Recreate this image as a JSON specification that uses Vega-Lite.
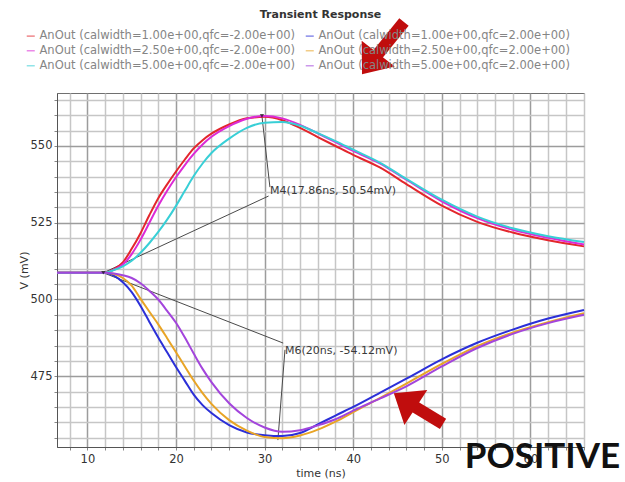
{
  "$schema": "https://vega.github.io/schema/vega-lite/v6.json",
  "width": 527,
  "height": 354,
  "autosize": {"type": "none"},
  "padding": {"left": 57, "top": 93, "right": 41, "bottom": 35},
  "background": "white",
  "config": {"view": {"stroke": "#707070", "strokeWidth": 1}, "font": "DejaVu Sans"},
  "title": {"text": "Transient Response", "anchor": "middle", "frame": "group", "offset": -4, "font": "DejaVu Sans", "fontSize": 11, "fontWeight": "bold", "color": "#333333"},
  "datasets": {
    "traces": [
      {"trace": "AnOut (calwidth=1.00e+00,qfc=-2.00e+00)", "t": 6.57, "v": 508.7},
      {"trace": "AnOut (calwidth=1.00e+00,qfc=-2.00e+00)", "t": 12, "v": 508.7},
      {"trace": "AnOut (calwidth=1.00e+00,qfc=-2.00e+00)", "t": 13, "v": 509.9},
      {"trace": "AnOut (calwidth=1.00e+00,qfc=-2.00e+00)", "t": 14, "v": 512.1},
      {"trace": "AnOut (calwidth=1.00e+00,qfc=-2.00e+00)", "t": 15, "v": 516.5},
      {"trace": "AnOut (calwidth=1.00e+00,qfc=-2.00e+00)", "t": 16, "v": 521.6},
      {"trace": "AnOut (calwidth=1.00e+00,qfc=-2.00e+00)", "t": 17, "v": 527.5},
      {"trace": "AnOut (calwidth=1.00e+00,qfc=-2.00e+00)", "t": 18, "v": 533.0},
      {"trace": "AnOut (calwidth=1.00e+00,qfc=-2.00e+00)", "t": 19, "v": 537.5},
      {"trace": "AnOut (calwidth=1.00e+00,qfc=-2.00e+00)", "t": 20, "v": 541.7},
      {"trace": "AnOut (calwidth=1.00e+00,qfc=-2.00e+00)", "t": 21, "v": 545.6},
      {"trace": "AnOut (calwidth=1.00e+00,qfc=-2.00e+00)", "t": 22, "v": 549.2},
      {"trace": "AnOut (calwidth=1.00e+00,qfc=-2.00e+00)", "t": 23, "v": 551.9},
      {"trace": "AnOut (calwidth=1.00e+00,qfc=-2.00e+00)", "t": 24, "v": 554.0},
      {"trace": "AnOut (calwidth=1.00e+00,qfc=-2.00e+00)", "t": 26, "v": 557.0},
      {"trace": "AnOut (calwidth=1.00e+00,qfc=-2.00e+00)", "t": 28, "v": 559.0},
      {"trace": "AnOut (calwidth=1.00e+00,qfc=-2.00e+00)", "t": 30, "v": 559.5},
      {"trace": "AnOut (calwidth=1.00e+00,qfc=-2.00e+00)", "t": 32, "v": 558.4},
      {"trace": "AnOut (calwidth=1.00e+00,qfc=-2.00e+00)", "t": 34, "v": 555.9},
      {"trace": "AnOut (calwidth=1.00e+00,qfc=-2.00e+00)", "t": 36, "v": 552.9},
      {"trace": "AnOut (calwidth=1.00e+00,qfc=-2.00e+00)", "t": 38, "v": 550.0},
      {"trace": "AnOut (calwidth=1.00e+00,qfc=-2.00e+00)", "t": 40, "v": 547.1},
      {"trace": "AnOut (calwidth=1.00e+00,qfc=-2.00e+00)", "t": 43, "v": 543.0},
      {"trace": "AnOut (calwidth=1.00e+00,qfc=-2.00e+00)", "t": 46, "v": 537.6},
      {"trace": "AnOut (calwidth=1.00e+00,qfc=-2.00e+00)", "t": 50, "v": 530.6},
      {"trace": "AnOut (calwidth=1.00e+00,qfc=-2.00e+00)", "t": 54, "v": 525.3},
      {"trace": "AnOut (calwidth=1.00e+00,qfc=-2.00e+00)", "t": 58, "v": 521.8},
      {"trace": "AnOut (calwidth=1.00e+00,qfc=-2.00e+00)", "t": 62, "v": 519.3},
      {"trace": "AnOut (calwidth=1.00e+00,qfc=-2.00e+00)", "t": 66.05, "v": 517.3},

      {"trace": "AnOut (calwidth=1.00e+00,qfc=2.00e+00)", "t": 6.57, "v": 508.7},
      {"trace": "AnOut (calwidth=1.00e+00,qfc=2.00e+00)", "t": 12, "v": 508.7},
      {"trace": "AnOut (calwidth=1.00e+00,qfc=2.00e+00)", "t": 13, "v": 507.8},
      {"trace": "AnOut (calwidth=1.00e+00,qfc=2.00e+00)", "t": 14, "v": 505.6},
      {"trace": "AnOut (calwidth=1.00e+00,qfc=2.00e+00)", "t": 15, "v": 502.4},
      {"trace": "AnOut (calwidth=1.00e+00,qfc=2.00e+00)", "t": 16, "v": 497.9},
      {"trace": "AnOut (calwidth=1.00e+00,qfc=2.00e+00)", "t": 17, "v": 492.7},
      {"trace": "AnOut (calwidth=1.00e+00,qfc=2.00e+00)", "t": 18, "v": 487.6},
      {"trace": "AnOut (calwidth=1.00e+00,qfc=2.00e+00)", "t": 19, "v": 482.8},
      {"trace": "AnOut (calwidth=1.00e+00,qfc=2.00e+00)", "t": 20, "v": 478.0},
      {"trace": "AnOut (calwidth=1.00e+00,qfc=2.00e+00)", "t": 21, "v": 473.5},
      {"trace": "AnOut (calwidth=1.00e+00,qfc=2.00e+00)", "t": 22, "v": 469.0},
      {"trace": "AnOut (calwidth=1.00e+00,qfc=2.00e+00)", "t": 23, "v": 465.6},
      {"trace": "AnOut (calwidth=1.00e+00,qfc=2.00e+00)", "t": 24, "v": 463.0},
      {"trace": "AnOut (calwidth=1.00e+00,qfc=2.00e+00)", "t": 26, "v": 459.1},
      {"trace": "AnOut (calwidth=1.00e+00,qfc=2.00e+00)", "t": 28, "v": 456.7},
      {"trace": "AnOut (calwidth=1.00e+00,qfc=2.00e+00)", "t": 30, "v": 455.8},
      {"trace": "AnOut (calwidth=1.00e+00,qfc=2.00e+00)", "t": 32, "v": 455.5},
      {"trace": "AnOut (calwidth=1.00e+00,qfc=2.00e+00)", "t": 34, "v": 456.5},
      {"trace": "AnOut (calwidth=1.00e+00,qfc=2.00e+00)", "t": 36, "v": 459.3},
      {"trace": "AnOut (calwidth=1.00e+00,qfc=2.00e+00)", "t": 38, "v": 462.2},
      {"trace": "AnOut (calwidth=1.00e+00,qfc=2.00e+00)", "t": 40, "v": 465.0},
      {"trace": "AnOut (calwidth=1.00e+00,qfc=2.00e+00)", "t": 43, "v": 469.6},
      {"trace": "AnOut (calwidth=1.00e+00,qfc=2.00e+00)", "t": 46, "v": 474.2},
      {"trace": "AnOut (calwidth=1.00e+00,qfc=2.00e+00)", "t": 50, "v": 480.5},
      {"trace": "AnOut (calwidth=1.00e+00,qfc=2.00e+00)", "t": 54, "v": 485.9},
      {"trace": "AnOut (calwidth=1.00e+00,qfc=2.00e+00)", "t": 58, "v": 490.2},
      {"trace": "AnOut (calwidth=1.00e+00,qfc=2.00e+00)", "t": 62, "v": 493.8},
      {"trace": "AnOut (calwidth=1.00e+00,qfc=2.00e+00)", "t": 66.05, "v": 496.6},

      {"trace": "AnOut (calwidth=2.50e+00,qfc=-2.00e+00)", "t": 6.57, "v": 508.7},
      {"trace": "AnOut (calwidth=2.50e+00,qfc=-2.00e+00)", "t": 12, "v": 508.7},
      {"trace": "AnOut (calwidth=2.50e+00,qfc=-2.00e+00)", "t": 13, "v": 509.7},
      {"trace": "AnOut (calwidth=2.50e+00,qfc=-2.00e+00)", "t": 14, "v": 511.4},
      {"trace": "AnOut (calwidth=2.50e+00,qfc=-2.00e+00)", "t": 15, "v": 514.8},
      {"trace": "AnOut (calwidth=2.50e+00,qfc=-2.00e+00)", "t": 16, "v": 519.5},
      {"trace": "AnOut (calwidth=2.50e+00,qfc=-2.00e+00)", "t": 17, "v": 525.0},
      {"trace": "AnOut (calwidth=2.50e+00,qfc=-2.00e+00)", "t": 18, "v": 530.5},
      {"trace": "AnOut (calwidth=2.50e+00,qfc=-2.00e+00)", "t": 19, "v": 535.4},
      {"trace": "AnOut (calwidth=2.50e+00,qfc=-2.00e+00)", "t": 20, "v": 539.8},
      {"trace": "AnOut (calwidth=2.50e+00,qfc=-2.00e+00)", "t": 21, "v": 543.8},
      {"trace": "AnOut (calwidth=2.50e+00,qfc=-2.00e+00)", "t": 22, "v": 547.4},
      {"trace": "AnOut (calwidth=2.50e+00,qfc=-2.00e+00)", "t": 23, "v": 550.5},
      {"trace": "AnOut (calwidth=2.50e+00,qfc=-2.00e+00)", "t": 24, "v": 553.0},
      {"trace": "AnOut (calwidth=2.50e+00,qfc=-2.00e+00)", "t": 26, "v": 556.5},
      {"trace": "AnOut (calwidth=2.50e+00,qfc=-2.00e+00)", "t": 28, "v": 558.9},
      {"trace": "AnOut (calwidth=2.50e+00,qfc=-2.00e+00)", "t": 30, "v": 559.8},
      {"trace": "AnOut (calwidth=2.50e+00,qfc=-2.00e+00)", "t": 32, "v": 559.0},
      {"trace": "AnOut (calwidth=2.50e+00,qfc=-2.00e+00)", "t": 34, "v": 556.9},
      {"trace": "AnOut (calwidth=2.50e+00,qfc=-2.00e+00)", "t": 36, "v": 554.1},
      {"trace": "AnOut (calwidth=2.50e+00,qfc=-2.00e+00)", "t": 38, "v": 551.3},
      {"trace": "AnOut (calwidth=2.50e+00,qfc=-2.00e+00)", "t": 40, "v": 548.4},
      {"trace": "AnOut (calwidth=2.50e+00,qfc=-2.00e+00)", "t": 43, "v": 544.3},
      {"trace": "AnOut (calwidth=2.50e+00,qfc=-2.00e+00)", "t": 46, "v": 539.0},
      {"trace": "AnOut (calwidth=2.50e+00,qfc=-2.00e+00)", "t": 50, "v": 532.0},
      {"trace": "AnOut (calwidth=2.50e+00,qfc=-2.00e+00)", "t": 54, "v": 526.5},
      {"trace": "AnOut (calwidth=2.50e+00,qfc=-2.00e+00)", "t": 58, "v": 522.7},
      {"trace": "AnOut (calwidth=2.50e+00,qfc=-2.00e+00)", "t": 62, "v": 520.1},
      {"trace": "AnOut (calwidth=2.50e+00,qfc=-2.00e+00)", "t": 66.05, "v": 517.9},

      {"trace": "AnOut (calwidth=2.50e+00,qfc=2.00e+00)", "t": 6.57, "v": 508.7},
      {"trace": "AnOut (calwidth=2.50e+00,qfc=2.00e+00)", "t": 12, "v": 508.7},
      {"trace": "AnOut (calwidth=2.50e+00,qfc=2.00e+00)", "t": 13, "v": 508.3},
      {"trace": "AnOut (calwidth=2.50e+00,qfc=2.00e+00)", "t": 14, "v": 507.0},
      {"trace": "AnOut (calwidth=2.50e+00,qfc=2.00e+00)", "t": 15, "v": 504.5},
      {"trace": "AnOut (calwidth=2.50e+00,qfc=2.00e+00)", "t": 16, "v": 500.2},
      {"trace": "AnOut (calwidth=2.50e+00,qfc=2.00e+00)", "t": 17, "v": 496.0},
      {"trace": "AnOut (calwidth=2.50e+00,qfc=2.00e+00)", "t": 18, "v": 491.9},
      {"trace": "AnOut (calwidth=2.50e+00,qfc=2.00e+00)", "t": 19, "v": 487.4},
      {"trace": "AnOut (calwidth=2.50e+00,qfc=2.00e+00)", "t": 20, "v": 482.8},
      {"trace": "AnOut (calwidth=2.50e+00,qfc=2.00e+00)", "t": 21, "v": 478.2},
      {"trace": "AnOut (calwidth=2.50e+00,qfc=2.00e+00)", "t": 22, "v": 473.6},
      {"trace": "AnOut (calwidth=2.50e+00,qfc=2.00e+00)", "t": 23, "v": 469.5},
      {"trace": "AnOut (calwidth=2.50e+00,qfc=2.00e+00)", "t": 24, "v": 466.0},
      {"trace": "AnOut (calwidth=2.50e+00,qfc=2.00e+00)", "t": 26, "v": 460.7},
      {"trace": "AnOut (calwidth=2.50e+00,qfc=2.00e+00)", "t": 28, "v": 457.3},
      {"trace": "AnOut (calwidth=2.50e+00,qfc=2.00e+00)", "t": 30, "v": 455.2},
      {"trace": "AnOut (calwidth=2.50e+00,qfc=2.00e+00)", "t": 32, "v": 454.8},
      {"trace": "AnOut (calwidth=2.50e+00,qfc=2.00e+00)", "t": 34, "v": 455.7},
      {"trace": "AnOut (calwidth=2.50e+00,qfc=2.00e+00)", "t": 36, "v": 457.6},
      {"trace": "AnOut (calwidth=2.50e+00,qfc=2.00e+00)", "t": 38, "v": 460.2},
      {"trace": "AnOut (calwidth=2.50e+00,qfc=2.00e+00)", "t": 40, "v": 463.3},
      {"trace": "AnOut (calwidth=2.50e+00,qfc=2.00e+00)", "t": 43, "v": 467.9},
      {"trace": "AnOut (calwidth=2.50e+00,qfc=2.00e+00)", "t": 46, "v": 472.6},
      {"trace": "AnOut (calwidth=2.50e+00,qfc=2.00e+00)", "t": 50, "v": 479.0},
      {"trace": "AnOut (calwidth=2.50e+00,qfc=2.00e+00)", "t": 54, "v": 484.8},
      {"trace": "AnOut (calwidth=2.50e+00,qfc=2.00e+00)", "t": 58, "v": 489.2},
      {"trace": "AnOut (calwidth=2.50e+00,qfc=2.00e+00)", "t": 62, "v": 492.6},
      {"trace": "AnOut (calwidth=2.50e+00,qfc=2.00e+00)", "t": 66.05, "v": 495.5},

      {"trace": "AnOut (calwidth=5.00e+00,qfc=-2.00e+00)", "t": 6.57, "v": 508.7},
      {"trace": "AnOut (calwidth=5.00e+00,qfc=-2.00e+00)", "t": 12, "v": 508.7},
      {"trace": "AnOut (calwidth=5.00e+00,qfc=-2.00e+00)", "t": 13, "v": 509.6},
      {"trace": "AnOut (calwidth=5.00e+00,qfc=-2.00e+00)", "t": 14, "v": 510.8},
      {"trace": "AnOut (calwidth=5.00e+00,qfc=-2.00e+00)", "t": 15, "v": 512.6},
      {"trace": "AnOut (calwidth=5.00e+00,qfc=-2.00e+00)", "t": 16, "v": 515.2},
      {"trace": "AnOut (calwidth=5.00e+00,qfc=-2.00e+00)", "t": 17, "v": 518.4},
      {"trace": "AnOut (calwidth=5.00e+00,qfc=-2.00e+00)", "t": 18, "v": 522.0},
      {"trace": "AnOut (calwidth=5.00e+00,qfc=-2.00e+00)", "t": 19, "v": 526.0},
      {"trace": "AnOut (calwidth=5.00e+00,qfc=-2.00e+00)", "t": 20, "v": 530.5},
      {"trace": "AnOut (calwidth=5.00e+00,qfc=-2.00e+00)", "t": 21, "v": 535.4},
      {"trace": "AnOut (calwidth=5.00e+00,qfc=-2.00e+00)", "t": 22, "v": 540.2},
      {"trace": "AnOut (calwidth=5.00e+00,qfc=-2.00e+00)", "t": 23, "v": 544.3},
      {"trace": "AnOut (calwidth=5.00e+00,qfc=-2.00e+00)", "t": 24, "v": 547.7},
      {"trace": "AnOut (calwidth=5.00e+00,qfc=-2.00e+00)", "t": 26, "v": 552.4},
      {"trace": "AnOut (calwidth=5.00e+00,qfc=-2.00e+00)", "t": 28, "v": 555.9},
      {"trace": "AnOut (calwidth=5.00e+00,qfc=-2.00e+00)", "t": 30, "v": 557.6},
      {"trace": "AnOut (calwidth=5.00e+00,qfc=-2.00e+00)", "t": 32, "v": 557.8},
      {"trace": "AnOut (calwidth=5.00e+00,qfc=-2.00e+00)", "t": 34, "v": 556.6},
      {"trace": "AnOut (calwidth=5.00e+00,qfc=-2.00e+00)", "t": 36, "v": 554.2},
      {"trace": "AnOut (calwidth=5.00e+00,qfc=-2.00e+00)", "t": 38, "v": 551.6},
      {"trace": "AnOut (calwidth=5.00e+00,qfc=-2.00e+00)", "t": 40, "v": 548.8},
      {"trace": "AnOut (calwidth=5.00e+00,qfc=-2.00e+00)", "t": 43, "v": 544.6},
      {"trace": "AnOut (calwidth=5.00e+00,qfc=-2.00e+00)", "t": 46, "v": 539.3},
      {"trace": "AnOut (calwidth=5.00e+00,qfc=-2.00e+00)", "t": 50, "v": 532.5},
      {"trace": "AnOut (calwidth=5.00e+00,qfc=-2.00e+00)", "t": 54, "v": 527.0},
      {"trace": "AnOut (calwidth=5.00e+00,qfc=-2.00e+00)", "t": 58, "v": 523.2},
      {"trace": "AnOut (calwidth=5.00e+00,qfc=-2.00e+00)", "t": 62, "v": 520.6},
      {"trace": "AnOut (calwidth=5.00e+00,qfc=-2.00e+00)", "t": 66.05, "v": 518.7},

      {"trace": "AnOut (calwidth=5.00e+00,qfc=2.00e+00)", "t": 6.57, "v": 508.7},
      {"trace": "AnOut (calwidth=5.00e+00,qfc=2.00e+00)", "t": 12, "v": 508.7},
      {"trace": "AnOut (calwidth=5.00e+00,qfc=2.00e+00)", "t": 13, "v": 508.5},
      {"trace": "AnOut (calwidth=5.00e+00,qfc=2.00e+00)", "t": 14, "v": 507.9},
      {"trace": "AnOut (calwidth=5.00e+00,qfc=2.00e+00)", "t": 15, "v": 507.0},
      {"trace": "AnOut (calwidth=5.00e+00,qfc=2.00e+00)", "t": 16, "v": 505.3},
      {"trace": "AnOut (calwidth=5.00e+00,qfc=2.00e+00)", "t": 17, "v": 502.8},
      {"trace": "AnOut (calwidth=5.00e+00,qfc=2.00e+00)", "t": 18, "v": 500.0},
      {"trace": "AnOut (calwidth=5.00e+00,qfc=2.00e+00)", "t": 19, "v": 496.3},
      {"trace": "AnOut (calwidth=5.00e+00,qfc=2.00e+00)", "t": 20, "v": 492.4},
      {"trace": "AnOut (calwidth=5.00e+00,qfc=2.00e+00)", "t": 21, "v": 487.6},
      {"trace": "AnOut (calwidth=5.00e+00,qfc=2.00e+00)", "t": 22, "v": 482.4},
      {"trace": "AnOut (calwidth=5.00e+00,qfc=2.00e+00)", "t": 23, "v": 477.4},
      {"trace": "AnOut (calwidth=5.00e+00,qfc=2.00e+00)", "t": 24, "v": 473.1},
      {"trace": "AnOut (calwidth=5.00e+00,qfc=2.00e+00)", "t": 26, "v": 466.2},
      {"trace": "AnOut (calwidth=5.00e+00,qfc=2.00e+00)", "t": 28, "v": 461.4},
      {"trace": "AnOut (calwidth=5.00e+00,qfc=2.00e+00)", "t": 30, "v": 458.3},
      {"trace": "AnOut (calwidth=5.00e+00,qfc=2.00e+00)", "t": 32, "v": 456.9},
      {"trace": "AnOut (calwidth=5.00e+00,qfc=2.00e+00)", "t": 34, "v": 457.4},
      {"trace": "AnOut (calwidth=5.00e+00,qfc=2.00e+00)", "t": 36, "v": 459.0},
      {"trace": "AnOut (calwidth=5.00e+00,qfc=2.00e+00)", "t": 38, "v": 461.0},
      {"trace": "AnOut (calwidth=5.00e+00,qfc=2.00e+00)", "t": 40, "v": 463.8},
      {"trace": "AnOut (calwidth=5.00e+00,qfc=2.00e+00)", "t": 43, "v": 467.7},
      {"trace": "AnOut (calwidth=5.00e+00,qfc=2.00e+00)", "t": 46, "v": 471.7},
      {"trace": "AnOut (calwidth=5.00e+00,qfc=2.00e+00)", "t": 50, "v": 478.2},
      {"trace": "AnOut (calwidth=5.00e+00,qfc=2.00e+00)", "t": 54, "v": 484.2},
      {"trace": "AnOut (calwidth=5.00e+00,qfc=2.00e+00)", "t": 58, "v": 488.8},
      {"trace": "AnOut (calwidth=5.00e+00,qfc=2.00e+00)", "t": 62, "v": 492.3},
      {"trace": "AnOut (calwidth=5.00e+00,qfc=2.00e+00)", "t": 66.05, "v": 495.0}
    ],
    "markerLines": [
      {"t": 29.7, "v": 559.8, "t2": 30.6, "v2": 536.6},
      {"t": 30.45, "v": 533.7, "t2": 11.8, "v2": 508.7},
      {"t": 32.1, "v": 485.8, "t2": 11.8, "v2": 508.7},
      {"t": 32.3, "v": 483.6, "t2": 31.5, "v2": 454.2}
    ],
    "markerPoints": [
      {"t": 11.8, "v": 508.7},
      {"t": 29.7, "v": 559.8}
    ],
    "markerLabels": [
      {"t": 30.61, "v": 535.4, "label": "M4(17.86ns, 50.54mV)"},
      {"t": 32.3, "v": 483.2, "label": "M6(20ns, -54.12mV)"}
    ],
    "arrows": [
      {"arrow": "legend", "t": 45.73, "v": 590.4, "t2": 42.75, "v2": 579.8},
      {"arrow": "trace", "t": 50.14, "v": 459.45, "t2": 46.97, "v2": 465.0}
    ],
    "callout": [
      {"t": 52.6, "v": 445.1, "label": "POSITIVE"}
    ]
  },
  "encoding": {
    "x": {
      "field": "t",
      "type": "quantitative",
      "scale": {"domain": [6.57, 66.05], "nice": false, "zero": false},
      "axis": {
        "title": "time (ns)",
        "values": [8, 10, 12, 14, 16, 18, 20, 22, 24, 26, 28, 30, 32, 34, 36, 38, 40, 42, 44, 46, 48, 50, 52, 54, 56, 58, 60, 62, 64, 66],
        "labelExpr": "datum.value % 10 === 0 ? datum.label : ''",
        "grid": true,
        "gridColor": {"condition": {"test": "datum.value % 10 === 0", "value": "#9c9c9c"}, "value": "#c6c6c6"},
        "gridWidth": 1.5,
        "domainColor": "#555555",
        "tickColor": "#888888",
        "tickSize": 3,
        "labelFont": "DejaVu Sans",
        "labelFontSize": 11.5,
        "labelColor": "#333333",
        "labelPadding": 3,
        "labelOverlap": false,
        "labelFlush": false,
        "titleFont": "DejaVu Sans",
        "titleFontSize": 11,
        "titleFontWeight": "normal",
        "titleColor": "#333333",
        "titlePadding": 3
      }
    },
    "y": {
      "field": "v",
      "type": "quantitative",
      "scale": {"domain": [451.95, 567.26], "nice": false, "zero": false},
      "axis": {
        "title": "V (mV)",
        "values": [455, 460, 465, 470, 475, 480, 485, 490, 495, 500, 505, 510, 515, 520, 525, 530, 535, 540, 545, 550, 555, 560, 565],
        "labelExpr": "datum.value % 25 === 0 ? datum.label : ''",
        "grid": true,
        "gridColor": {"condition": {"test": "datum.value % 25 === 0", "value": "#9c9c9c"}, "value": "#c6c6c6"},
        "gridWidth": 1.5,
        "domainColor": "#555555",
        "tickColor": "#888888",
        "tickSize": 3,
        "labelFont": "DejaVu Sans",
        "labelFontSize": 11.5,
        "labelColor": "#333333",
        "labelPadding": 2,
        "labelOverlap": false,
        "labelFlush": false,
        "titleFont": "DejaVu Sans",
        "titleFontSize": 11,
        "titleFontWeight": "normal",
        "titleColor": "#333333",
        "titlePadding": 1
      }
    }
  },
  "layer": [
    {
      "data": {"name": "markerLines"},
      "mark": {"type": "rule", "color": "#4a4a4a", "strokeWidth": 1},
      "encoding": {"x2": {"field": "t2"}, "y2": {"field": "v2"}}
    },
    {
      "data": {"name": "traces"},
      "mark": {"type": "line", "strokeWidth": 2, "interpolate": "monotone"},
      "encoding": {
        "color": {
          "field": "trace",
          "type": "nominal",
          "sort": null,
          "scale": {
            "domain": [
              "AnOut (calwidth=1.00e+00,qfc=-2.00e+00)",
              "AnOut (calwidth=1.00e+00,qfc=2.00e+00)",
              "AnOut (calwidth=2.50e+00,qfc=-2.00e+00)",
              "AnOut (calwidth=2.50e+00,qfc=2.00e+00)",
              "AnOut (calwidth=5.00e+00,qfc=-2.00e+00)",
              "AnOut (calwidth=5.00e+00,qfc=2.00e+00)"
            ],
            "range": ["#e3262c", "#2b2fd8", "#dc2ad6", "#e8a426", "#38cfd6", "#a345dc"]
          },
          "legend": {
            "orient": "none",
            "direction": "horizontal",
            "legendX": -32,
            "legendY": -63,
            "columns": 2,
            "title": null,
            "padding": 0,
            "symbolType": "stroke",
            "symbolSize": 64,
            "symbolStrokeWidth": 1.5,
            "symbolOpacity": 0.55,
            "labelFont": "DejaVu Sans",
            "labelFontSize": 11.5,
            "labelColor": "#858585",
            "labelLimit": 400,
            "labelOffset": 3,
            "columnPadding": 6,
            "rowPadding": 2
          }
        }
      }
    },
    {
      "data": {"name": "markerPoints"},
      "mark": {"type": "point", "shape": "triangle-down", "filled": true, "color": "#111111", "size": 18}
    },
    {
      "data": {"name": "markerLabels"},
      "mark": {"type": "text", "align": "left", "baseline": "middle", "font": "DejaVu Sans", "fontSize": 11, "color": "#3a3a3a"},
      "encoding": {"text": {"field": "label"}}
    },
    {
      "data": {"name": "arrows"},
      "mark": {"type": "rule", "color": "#c00d0d", "strokeWidth": 12, "strokeCap": "butt"},
      "encoding": {"x2": {"field": "t2"}, "y2": {"field": "v2"}}
    },
    {
      "data": {"name": "arrows"},
      "transform": [{"filter": "datum.arrow === 'legend'"}],
      "mark": {"type": "point", "shape": "M-1,0.05L0,-1.2L1,0.05Z", "filled": true, "color": "#c00d0d", "opacity": 1, "size": 1764, "angle": 218},
      "encoding": {"x": {"field": "t2", "type": "quantitative"}, "y": {"field": "v2", "type": "quantitative"}}
    },
    {
      "data": {"name": "arrows"},
      "transform": [{"filter": "datum.arrow === 'trace'"}],
      "mark": {"type": "point", "shape": "M-1,0.05L0,-1.2L1,0.05Z", "filled": true, "color": "#c00d0d", "opacity": 1, "size": 1764, "angle": 303},
      "encoding": {"x": {"field": "t2", "type": "quantitative"}, "y": {"field": "v2", "type": "quantitative"}}
    },
    {
      "data": {"name": "callout"},
      "mark": {"type": "text", "align": "left", "baseline": "alphabetic", "font": "Lato", "fontWeight": "bold", "fontSize": 35, "color": "#111111"},
      "encoding": {"text": {"field": "label"}}
    }
  ]
}
